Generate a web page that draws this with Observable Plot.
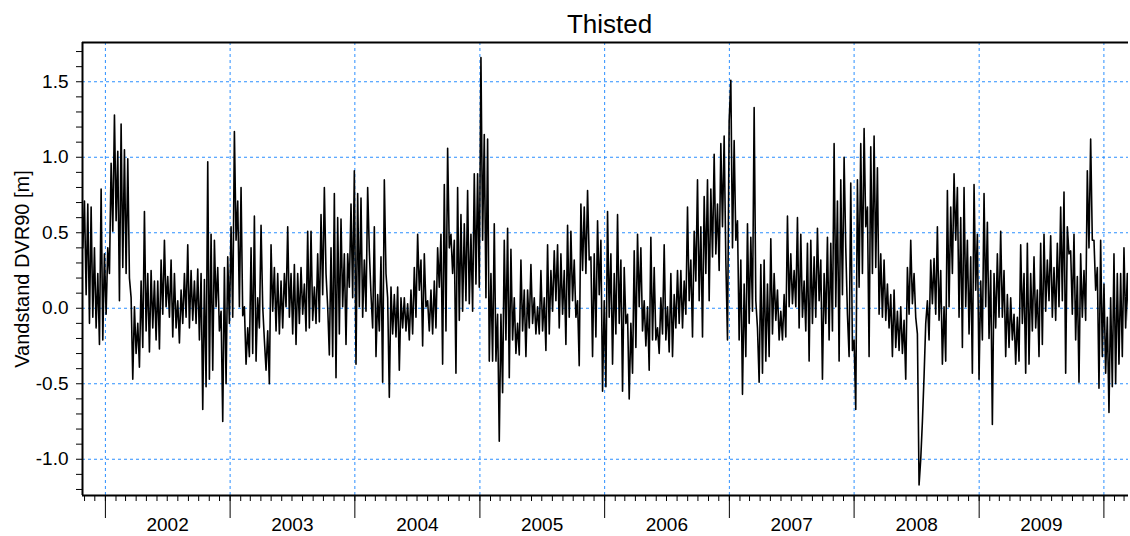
<!DOCTYPE html>
<html><head><meta charset="utf-8">
<script src="https://cdn.jsdelivr.net/npm/d3@7"></script>
<script src="https://cdn.jsdelivr.net/npm/@observablehq/plot@0.6"></script>
<style>body{margin:0;background:#fff;}</style>
</head><body><div id="chart"></div>
<script>
const title = "Thisted";
const yLabel = "Vandstand DVR90 [m]";
const seriesStart = "2001-10-22";
const stepHours = 117;
const yearLabels = [2002, 2003, 2004, 2005, 2006, 2007, 2008, 2009];
const yLabelTicks = [-1.0, -0.5, 0.0, 0.5, 1.0, 1.5];

const segA = [1.02,0.40, 0.71,0.09, 0.69,-0.10, 0.67,-0.06, 0.40,-0.13, 0.23,-0.24, 0.79,-0.21, 0.36,-0.04, 0.40,0.23, 0.96,0.51,
1.28,0.58, 1.04,0.05, 1.22,0.27, 1.05,0.23, 0.99,0.20, 0.07,-0.47, 0.01,-0.30, -0.10,-0.39, 0.18,-0.26, 0.64,-0.15,
0.23,-0.29, 0.25,-0.13, 0.18,-0.21, 0.18,-0.27, 0.32,-0.04, 0.45,0.01, 0.21,-0.06, 0.32,-0.19, 0.23,-0.13, 0.05,-0.23,
0.12,-0.10, 0.23,-0.06, 0.42,-0.13, 0.25,-0.08, 0.18,-0.10, 0.26,-0.21, 0.23,-0.67, 0.19,-0.52, 0.97,-0.47];
const segB = [0.49,-0.41, 0.45,0.01, 0.27,-0.15, -0.02,-0.75, 0.27,-0.50, 0.34,-0.10, 0.54,-0.06, 1.17,0.45, 0.71,0.01, 0.80,-0.05,
0.01,-0.37, -0.13,-0.32, 0.40,-0.30, 0.61,-0.35, 0.07,-0.13, 0.55,0.01, -0.21,-0.41, -0.15,-0.50, 0.42,-0.02, 0.27,-0.15,
0.23,-0.17, 0.18,-0.13, 0.23,0.01, 0.54,-0.06, 0.23,-0.17, 0.29,-0.24, 0.23,-0.10, 0.27,-0.04, 0.16,-0.15, 0.51,-0.13,
0.51,-0.08, 0.14,-0.10, 0.36,-0.09, 0.62,0.09, 0.80,0.23, 0.01,-0.31, 0.40,-0.32, 0.76,-0.46, 0.60,-0.17];
const segC = [0.59,0.01, 0.36,-0.24, 0.36,0.14, 0.69,0.07, 0.91,-0.37, 0.76,0.01, 0.73,-0.06, 0.32,-0.02, 0.80,0.38, 0.09,-0.13,
0.54,-0.32, 0.09,-0.15, 0.34,-0.49, 0.85,0.23, 0.07,-0.59, 0.14,-0.17, 0.09,-0.19, 0.14,-0.41, 0.07,-0.13, 0.07,-0.15,
0.03,-0.21, 0.12,-0.17, 0.27,-0.06, 0.49,0.12, 0.32,-0.25, 0.36,0.01, 0.05,-0.15, 0.12,-0.17, 0.18,-0.13, 0.40,0.14,
0.49,-0.37, 0.82,-0.15, 1.06,0.40, 0.49,0.23, 0.45,-0.43, 0.80,-0.08, 0.62,-0.02, 0.56,0.05, 0.78,0.03];
const segD = [0.49,-0.02, 0.89,0.16, 0.89,0.14, 1.66,0.45, 1.15,0.07, 1.12,-0.35, 0.23,-0.35, 0.56,-0.35, -0.04,-0.88, -0.04,-0.56,
0.45,-0.21, 0.53,-0.46, 0.39,-0.21, 0.07,-0.30, -0.10,-0.31, 0.32,-0.15, 0.12,-0.32, 0.12,-0.13, 0.29,-0.10, 0.07,-0.17,
0.01,-0.17, 0.25,-0.15, 0.07,-0.28, 0.42,-0.17, 0.25,-0.02, 0.38,0.05, 0.42,-0.13, 0.36,-0.04, 0.25,-0.24, 0.55,-0.06,
0.51,0.05, 0.32,-0.06, 0.05,-0.38, 0.69,0.25, 0.67,0.23, 0.78,0.32, 0.34,-0.32, 0.36,-0.19, 0.58,0.09];
const segE = [0.45,-0.55, 0.05,-0.52, 0.64,-0.06, 0.36,-0.37, 0.23,-0.17, 0.62,-0.10, 0.32,-0.55, 0.27,-0.10, -0.04,-0.60, -0.10,-0.43,
0.38,-0.26, 0.49,0.01, 0.40,-0.15, 0.05,-0.25, 0.01,-0.41, 0.47,-0.21, 0.27,-0.21, -0.13,-0.30, 0.07,-0.17, 0.42,-0.21,
0.01,-0.29, 0.23,-0.32, 0.09,-0.13, 0.25,-0.10, 0.25,-0.13, 0.18,-0.04, 0.67,0.05, 0.32,-0.19, 0.51,0.18, 0.85,0.05,
0.54,-0.19, 0.74,0.23, 0.85,0.05, 0.79,0.34, 1.02,0.36, 0.69,0.25, 1.09,0.54, 1.14,0.32, -0.21,1.24];
const segF = [1.51,0.40, 1.11,0.45, 0.58,-0.21, 0.32,-0.57, 0.16,-0.32, 0.56,-0.10, 0.47,-0.02, 1.33,0.05, -0.13,-0.49, 0.29,-0.43,
0.32,-0.35, 0.16,-0.32, 0.46,-0.17, 0.23,-0.08, 0.12,-0.21, -0.02,-0.21, 0.09,-0.19, 0.61,0.01, 0.36,0.03, 0.25,0.01,
0.60,-0.13, 0.49,-0.06, 0.18,-0.15, 0.43,-0.35, 0.45,-0.10, 0.34,-0.06, 0.53,0.05, 0.32,-0.47, 0.23,-0.10, 0.47,-0.21,
0.43,-0.15, 1.09,0.01, 0.71,-0.35, 0.85,0.09, 1.00,0.40, -0.04,-0.32, 0.83,-0.28, -0.21,-0.67, 0.85,0.14];
const segG = [1.09,0.23, 1.19,0.54, 0.67,-0.32, 1.07,0.23, 1.14,0.27, 0.93,-0.04, 0.36,-0.06, 0.32,-0.08, 0.16,-0.13, 0.09,-0.32,
0.12,-0.26, -0.02,-0.28, 0.01,-0.30, -0.08,-0.47, 0.27,-0.04, 0.45,0.03, 0.23,-0.06, -0.17,-1.17, -1.00,-0.75, -0.45,-0.10,
0.05,-0.21, 0.32,0.03, 0.33,-0.04, 0.54,-0.08, 0.25,-0.37, 0.01,-0.35, 0.78,0.01, 0.67,0.23, 0.89,0.45, 0.80,-0.06,
0.60,-0.26, 0.80,0.01, 0.45,-0.17, 0.34,-0.43, 0.82,0.12, 0.49,-0.47, 0.18,-0.21, 0.76,0.01, 0.57,-0.20];
const segH = [0.25,-0.77, 0.23,-0.13, 0.36,-0.06, 0.51,-0.06, 0.25,-0.32, 0.09,-0.26, 0.07,-0.21, -0.04,-0.37, -0.06,-0.35, 0.42,-0.10,
0.23,-0.43, 0.43,-0.37, 0.23,-0.15, 0.34,-0.13, 0.12,-0.32, 0.43,-0.24, 0.49,-0.02, 0.32,0.05, 0.48,-0.06, 0.27,-0.08,
0.43,0.01, 0.67,0.05, 0.77,-0.43, 0.54,0.36, 0.38,-0.04, 0.49,-0.21, 0.21,-0.49, 0.36,-0.06, 0.25,-0.08, 0.91,0.40,
1.12,0.45, 0.45,0.12, 0.27,-0.53, 0.45,-0.32, 0.16,-0.43, -0.06,-0.69, 0.07,-0.52, 0.36,-0.50, 0.23,-0.37, 0.23,-0.32,
0.40,-0.13, 0.23,-0.13];

const levels = [].concat(segA, segB, segC, segD, segE, segF, segG, segH);
const t0 = new Date(seriesStart + "T00:00:00Z").getTime();
const data = levels.map((v, i) => ({date: new Date(t0 + i * stepHours * 3600e3), level: v}));

const xStart = new Date(Date.UTC(2001, 9, 26));
const xEnd = new Date(Date.UTC(2010, 2, 14));
const yMin = -1.24, yMax = 1.76;
const yearStarts = d3.range(2002, 2011).map(y => new Date(Date.UTC(y, 0, 1)));
const midYears = yearLabels.map(y => new Date(Date.UTC(y, 6, 2)));
const months = d3.utcMonth.range(new Date(Date.UTC(2001, 10, 1)), new Date(Date.UTC(2010, 3, 1)));
const minorY = d3.range(-12, 18).map(k => k / 10);
const labelled = new Set(yLabelTicks.map(v => Math.round(v * 10)));
const gridColor = "#2b8fff";
const font = "'Liberation Sans', Arial, sans-serif";

const chart = Plot.plot({
  width: 1130, height: 536,
  marginLeft: 82, marginRight: 2, marginTop: 42, marginBottom: 41,
  style: {fontFamily: font, background: "#fff", color: "#000"},
  x: {type: "utc", domain: [xStart, xEnd]},
  y: {domain: [yMin, yMax]},
  marks: [
    Plot.gridY(yLabelTicks, {stroke: gridColor, strokeOpacity: 1, strokeWidth: 1, strokeDasharray: "3,3"}),
    Plot.gridX(yearStarts, {stroke: gridColor, strokeOpacity: 1, strokeWidth: 1, strokeDasharray: "3,3"}),
    Plot.line(data, {x: "date", y: "level", stroke: "#000", strokeWidth: 1.6, clip: true}),
    Plot.axisY(minorY, {anchor: "left", tickSize: 6, tickPadding: 8, fontSize: 19, label: null,
      tickFormat: d => labelled.has(Math.round(d * 10)) ? d.toFixed(1) : ""}),
    Plot.axisX(months, {anchor: "bottom", tickSize: 6, tickFormat: () => "", label: null}),
    Plot.axisX(yearStarts, {anchor: "bottom", tickSize: 23, tickFormat: () => "", label: null}),
    Plot.axisX(midYears, {anchor: "bottom", tickSize: 0, tickPadding: 22, fontSize: 19, label: null,
      tickFormat: d => String(d.getUTCFullYear())}),
    Plot.ruleY([yMax], {stroke: "#000", strokeWidth: 2}),
    Plot.ruleY([yMin], {stroke: "#000", strokeWidth: 2}),
    Plot.ruleX([xStart], {stroke: "#000", strokeWidth: 2}),
    Plot.text([title], {frameAnchor: "top", dy: -18, dx: 4, fontSize: 26, lineAnchor: "middle", textAnchor: "middle"}),
    Plot.text([yLabel], {frameAnchor: "left", dx: -60, rotate: -90, fontSize: 20, textAnchor: "middle", lineAnchor: "middle"})
  ]
});
document.getElementById("chart").appendChild(chart);
</script>
</body></html>
